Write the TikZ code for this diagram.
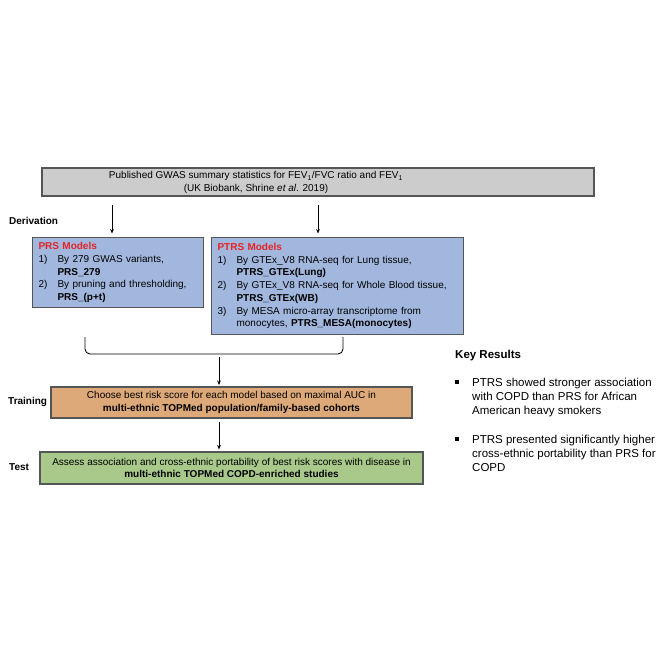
\documentclass[tikz,border=0pt]{standalone}
\usepackage{fontspec}
\setmainfont{Liberation Sans}
\usetikzlibrary{
  arrows.meta,
  positioning,
  calc
}
\definecolor{gwasgrey}{RGB}{204,204,204}
\definecolor{modelblue}{RGB}{162,183,222}
\definecolor{trainorange}{RGB}{221,169,121}
\definecolor{testgreen}{RGB}{169,201,139}
\definecolor{titlered}{RGB}{228,36,36}
\definecolor{edgegrey}{RGB}{85,85,85}
\newcommand{\modelitem}[1]{\makebox[19pt][l]{#1}}
\newcommand{\modelcont}{\hspace*{19pt}}
\newcommand{\keybullet}{\makebox[17pt][l]{\raisebox{2.6pt}{\rule{3.6pt}{3.6pt}}}}
\newcommand{\keycont}{\hspace*{17pt}}
\tikzset{
  block/.style={
    rectangle, draw=edgegrey, line width=1.1pt,
    inner sep=0pt, align=center,
    font=\fontsize{10}{12.7}\selectfont
  },
  modelblock/.style={
    block, fill=modelblue, anchor=north west,
    align=left, inner xsep=6pt
  },
  stagelabel/.style={
    font=\fontsize{10}{12}\selectfont\bfseries,
    anchor=west, inner sep=0pt
  },
  keytext/.style={
    align=left, anchor=north west, inner sep=0pt,
    font=\fontsize{11.5}{14.2}\selectfont
  },
  arrow/.style={-{Stealth[length=4.5pt,width=3.8pt]}, line width=0.9pt},
  bracket/.style={line width=0.9pt, rounded corners=5pt}
}

\begin{document}
\begin{tikzpicture}[x=1pt, y=-1pt]
\useasboundingbox (0,0) rectangle (664,664);

% ── Source statistics ───────────────────────────────────────────────────────
\node[block, fill=gwasgrey, minimum width=552, minimum height=28]
  (gwas) at (318,182) {};
\node[block, draw=none] (gwastext) at (256,182.5)
  {Published GWAS summary statistics for FEV\textsubscript{1}/FVC ratio and FEV\textsubscript{1}\\
   (UK Biobank, Shrine \textit{et al}. 2019)};

% ── Derivation ──────────────────────────────────────────────────────────────
\node[stagelabel] (derlab) at (9,221) {Derivation};

\node[modelblock, text width=159, minimum height=70] (prs) at (32,237)
  {\textcolor{titlered}{\bfseries PRS Models}\\
   \modelitem{1)}By 279 GWAS variants,\\
   \modelcont\textbf{PRS\_279}\\
   \modelitem{2)}By pruning and thresholding,\\
   \modelcont\textbf{PRS\_(p+t)}};

\node[modelblock, text width=240, minimum height=97] (ptrs) at (211,237)
  {\textcolor{titlered}{\bfseries PTRS Models}\\
   \modelitem{1)}By GTEx\_V8 RNA-seq for Lung tissue,\\
   \modelcont\textbf{PTRS\_GTEx(Lung)}\\
   \modelitem{2)}By GTEx\_V8 RNA-seq for Whole Blood tissue,\\
   \modelcont\textbf{PTRS\_GTEx(WB)}\\
   \modelitem{3)}By MESA micro-array transcriptome from\\
   \modelcont monocytes, \textbf{PTRS\_MESA(monocytes)}};

\coordinate (gwasL) at (112,205);
\coordinate (gwasR) at (318,205);
\draw[arrow, shorten >=3.5pt] (gwasL) -- (gwasL |- prs.north);
\draw[arrow, shorten >=3.5pt] (gwasR) -- (gwasR |- ptrs.north);

% ── Merge bracket ───────────────────────────────────────────────────────────
\coordinate (brl) at (85,337);
\coordinate (brr) at (343,337);
\coordinate (brb) at (219,354);
\coordinate (brout) at (219,357);
\draw[bracket] (brl) |- (brb) -| (brr);

% ── Training ────────────────────────────────────────────────────────────────
\node[stagelabel] (trainlab) at (8,402) {Training};
\node[block, fill=trainorange, minimum width=361, minimum height=31]
  (train) at (231.5,402.5)
  {Choose best risk score for each model based on maximal AUC in\\
   \textbf{multi-ethnic TOPMed population/family-based cohorts}};
\draw[arrow, shorten >=1.5pt] (brout) -- (brout |- train.north);

% ── Test ────────────────────────────────────────────────────────────────────
\node[stagelabel] (testlab) at (9,467) {Test};
\node[block, fill=testgreen, minimum width=383, minimum height=32]
  (test) at (231.5,468)
  {Assess association and cross-ethnic portability of best risk scores with disease in\\
   \textbf{multi-ethnic TOPMed COPD-enriched studies}};
\coordinate (trout) at (219,422);
\draw[arrow, shorten >=2pt] (trout) -- (trout |- test.north);

% ── Key results ─────────────────────────────────────────────────────────────
\node[keytext] (keyres) at (455,349.5)
  {\textbf{Key Results}\\[14.2pt]
   \keybullet PTRS showed stronger association\\
   \keycont with COPD than PRS for African\\
   \keycont American heavy smokers\\[14.2pt]
   \keybullet PTRS presented significantly higher\\
   \keycont cross-ethnic portability than PRS for\\
   \keycont COPD};

\end{tikzpicture}
\end{document}
